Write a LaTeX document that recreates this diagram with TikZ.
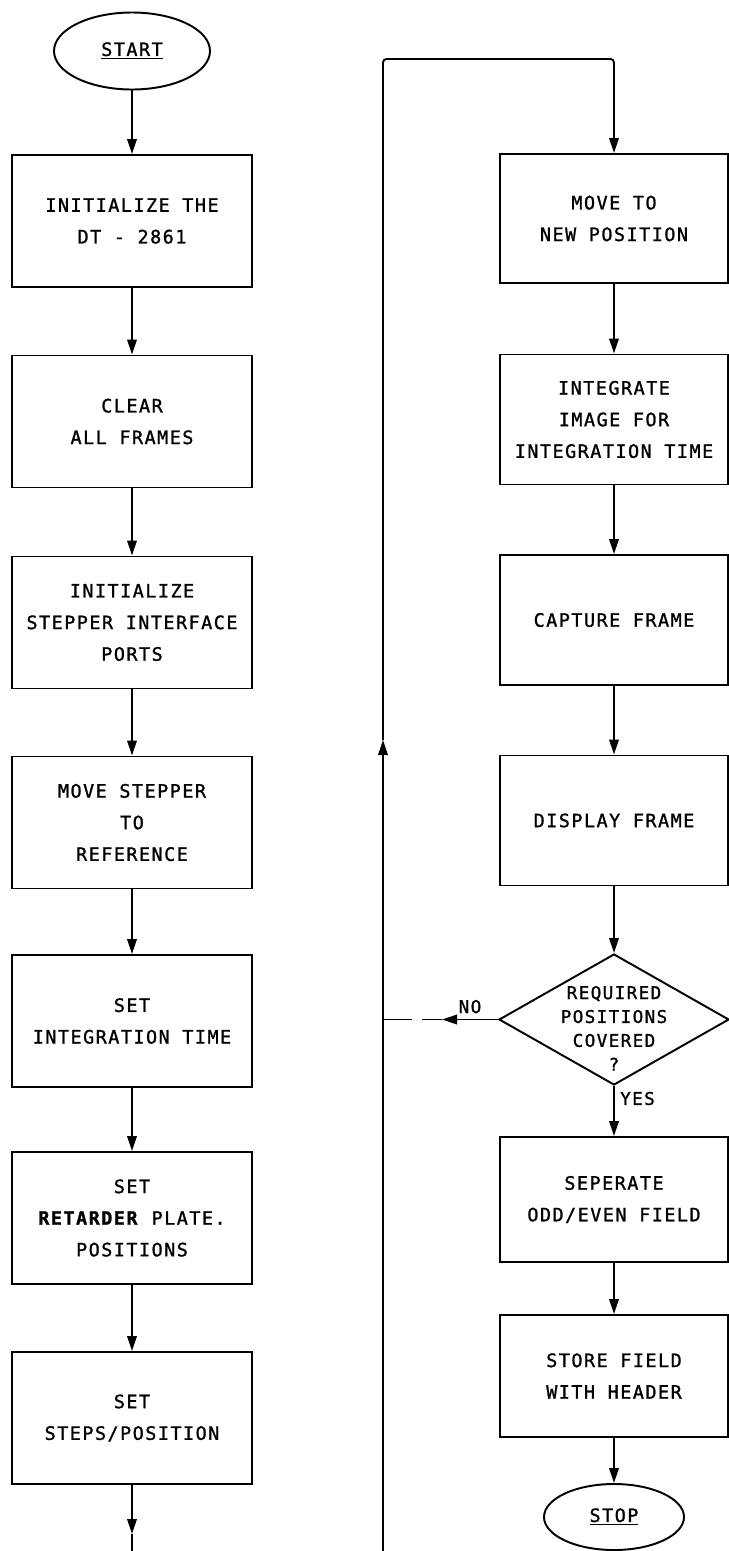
\documentclass[tikz,border=0pt]{standalone}
\usepackage{fontspec}
\newfontfamily\flowfont{DejaVu Sans Mono}[LetterSpace=8, FakeBold=1.2]
\usetikzlibrary{arrows.meta, positioning, calc, shapes.geometric}

\begin{document}
\begin{tikzpicture}[
  line width=1.1pt,
  proc/.style={draw, rectangle, minimum width=4.8cm, minimum height=2.64cm,
               align=center, inner sep=2pt, font=\flowfont\fontsize{10.5}{18}\selectfont},
  procr/.style={proc, minimum width=4.56cm, minimum height=2.6cm},
  term/.style={draw, ellipse, inner sep=0pt, font=\flowfont\fontsize{10.5}{13}\selectfont},
  dec/.style={draw, diamond, inner sep=0pt, minimum width=4.6cm, minimum height=2.62cm,
              font=\flowfont\fontsize{10}{13.6}\selectfont},
  flow/.style={-{Triangle[length=0.3cm, width=0.19cm]}},
  lbl/.style={font=\flowfont\fontsize{10}{12}\selectfont, inner sep=3pt}
]
  \useasboundingbox (0,0) rectangle (14.58,-31.02);

  % Left column
  \node[term, minimum width=3.12cm, minimum height=1.54cm] (ST) at (2.64,-1.02) {\underline{START}};
  \node[proc] (INIT)  at (2.64,-4.42)  {INITIALIZE THE\\DT - 2861};
  \node[proc] (CLR)   at (2.64,-8.43)  {CLEAR\\ALL FRAMES};
  \node[proc] (PORT)  at (2.64,-12.45) {INITIALIZE\\STEPPER INTERFACE\\PORTS};
  \node[proc] (REF)   at (2.64,-16.45) {MOVE STEPPER\\TO\\REFERENCE};
  \node[proc] (ITIME) at (2.64,-20.42) {SET\\INTEGRATION TIME};
  \node[proc] (RET)   at (2.64,-24.36) {SET\\\textbf{RETARDER} PLATE.\\POSITIONS};
  \node[proc] (STEP)  at (2.64,-28.36) {SET\\STEPS/POSITION};

  % Right column
  \node[procr, minimum height=2.58cm] (MOV) at (12.28,-4.37) {MOVE TO\\NEW POSITION};
  \node[procr] (INTG) at (12.28,-8.39)  {INTEGRATE\\IMAGE FOR\\INTEGRATION TIME};
  \node[procr] (CAP)  at (12.28,-12.4)  {CAPTURE FRAME};
  \node[procr] (DISP) at (12.28,-16.41) {DISPLAY FRAME};
  \node[dec]   (DEC)  at (12.28,-20.39)
    {\smash{\raisebox{-0.3cm}{\begin{tabular}{@{}c@{}}REQUIRED\\POSITIONS\\COVERED\\?\end{tabular}}}};
  \node[procr, minimum height=2.5cm]  (SEP) at (12.28,-23.99) {SEPERATE\\ODD/EVEN FIELD};
  \node[procr, minimum height=2.44cm] (STO) at (12.28,-27.52) {STORE FIELD\\WITH HEADER};
  \node[term, minimum width=2.8cm, minimum height=1.32cm] (STP) at (12.28,-30.34) {\underline{STOP}};

  % Left column arrows
  \draw[flow] (ST) -- (INIT);
  \draw[flow] (INIT) -- (CLR);
  \draw[flow] (CLR) -- (PORT);
  \draw[flow] (PORT) -- (REF);
  \draw[flow] (REF) -- (ITIME);
  \draw[flow] (ITIME) -- (RET);
  \draw[flow] (RET) -- (STEP);
  \coordinate (Lend) at (2.64,-30.68);
  \coordinate (Lbot) at (2.64,-31.02);
  \draw[flow] (STEP) -- (Lend);
  \draw (Lend) -- (Lbot);

  % Loop line back to the top of the right column
  \coordinate (Kbot) at (7.66,-31.02);
  \coordinate (Kmid) at (7.66,-14.8);
  \coordinate (Ktop) at (7.66,-1.18);
  \draw[flow] (Kbot) -- (Kmid);
  \draw[flow, rounded corners=2pt] (Kmid) -- (Ktop) -| (MOV);

  % Right column arrows
  \draw[flow] (MOV) -- (INTG);
  \draw[flow] (INTG) -- (CAP);
  \draw[flow] (CAP) -- (DISP);
  \draw[flow] (DISP) -- (DEC);
  \draw[flow] (DEC) -- node[lbl, right, pos=0.25] {YES} (SEP);
  \draw[flow] (SEP) -- (STO);
  \draw[flow] (STO) -- (STP);

  % NO branch (with the small break in the line)
  \coordinate (Nhead) at (8.84,-20.39);
  \coordinate (Ngapa) at (8.44,-20.39);
  \coordinate (Ngapb) at (8.24,-20.39);
  \draw[flow] (DEC.west) -- node[lbl, above] {NO} (Nhead);
  \draw (Nhead) -- (Ngapa);
  \draw (Ngapb) -- (Ngapb -| Kmid);

\end{tikzpicture}
\end{document}
